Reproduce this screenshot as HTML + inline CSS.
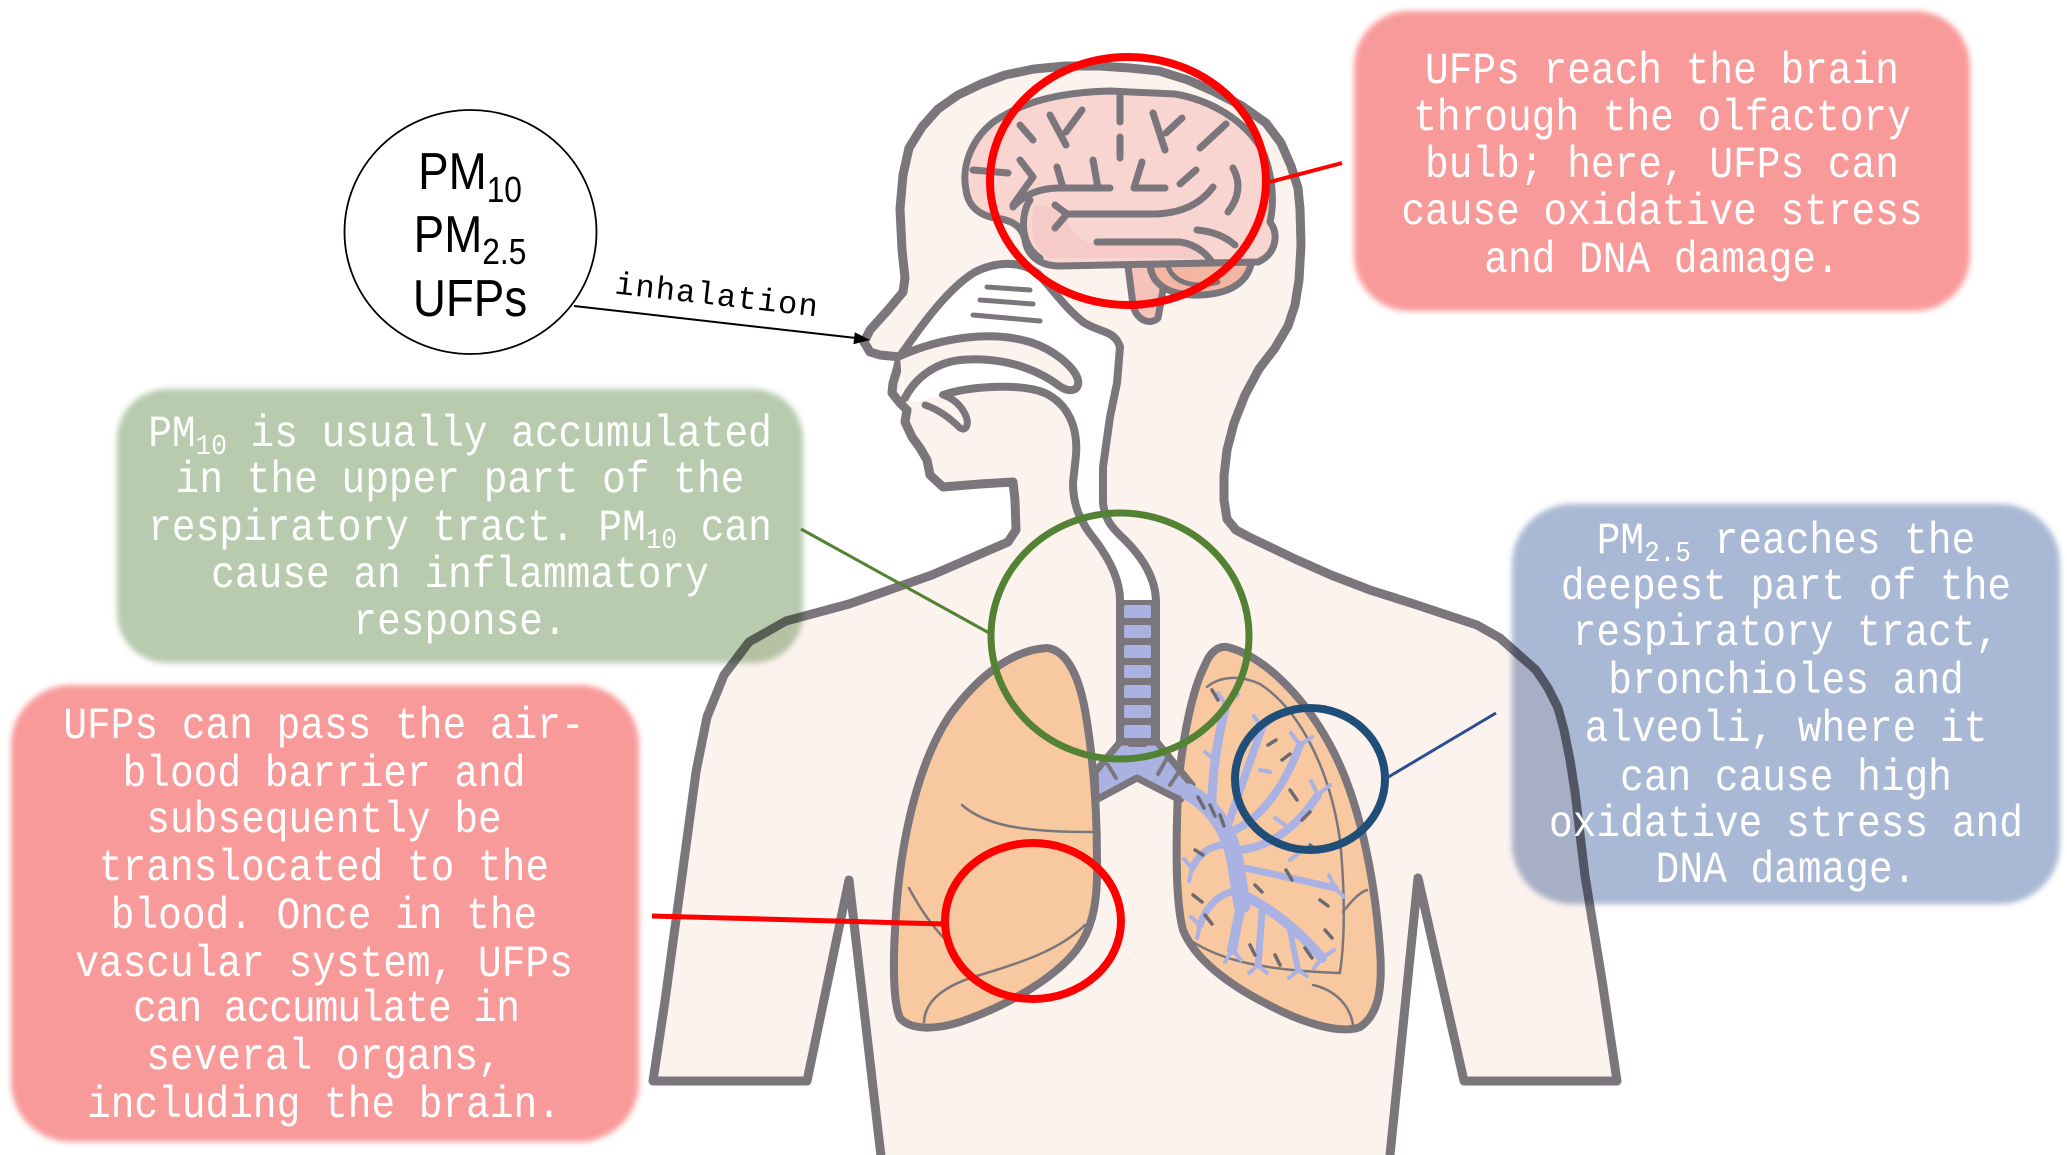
<!DOCTYPE html>
<html><head><meta charset="utf-8"><style>html,body{margin:0;padding:0;background:#fff}svg{display:block}</style></head>
<body>
<svg width="2067" height="1155" viewBox="0 0 2067 1155" xmlns="http://www.w3.org/2000/svg">
<defs>
<filter id="bl" x="-5%" y="-5%" width="110%" height="110%"><feGaussianBlur stdDeviation="3"/></filter>
</defs>
<rect width="2067" height="1155" fill="#fff"/>

<!-- boxes -->
<rect x="1354" y="11" width="616" height="300" rx="55" fill="#f99a9a" filter="url(#bl)"/>
<rect x="117" y="389" width="686" height="274" rx="50" fill="#b8cbae" filter="url(#bl)"/>
<rect x="11" y="685" width="628" height="457" rx="60" fill="#f99a9a" filter="url(#bl)"/>
<rect x="1512" y="504" width="548" height="400" rx="60" fill="#a9b8d4" filter="url(#bl)"/>

<!-- body -->
<g style="mix-blend-mode:multiply" stroke="#7a767b" stroke-linejoin="round" stroke-linecap="round">
<path fill="#fcf3ef" stroke-width="9" d="M864,342 L870,330 L888,310 L903,292 L905,278 L902,250 L900,209 L903,175 L909,148 L922,127 L938,109 L958,95 L981,84 L1005,75 L1034,69 L1065,66 L1099,66 L1130,68 L1159,71 L1188,80 L1213,91 L1242,106 L1266,123 L1281,143 L1291,166 L1298,188 L1300,209 L1301,245 L1299,280 L1295,305 L1288,326 L1275,348 L1259,369 L1245,395 L1234,423 L1227,450 L1224,476 L1224,500 L1227,519 L1236,530 L1249,537 L1295,559 L1331,575 L1370,590 L1414,604 L1477,625 L1500,638 L1519,655 L1536,670 L1548,688 L1558,708 L1564,730 L1570,760 L1575,792 L1585,876 L1602,980 L1617,1081 L1464,1081 L1418,878 L1389,1165 L882,1165 L849,880 L807,1081 L653,1081 L665,1001 L682,876 L696,772 L707,717 L724,675 L749,642 L786,621 L849,604 L932,575 L1008,542 L1016,530 L1015,500 L1013,482 L980,484 L943,487 L930,475 L927,460 L920,448 L912,437 L905,422 L907,410 L900,403 L892,393 L893,383 L897,370 L900,357 L880,355 L870,352 Z"/>
<!-- white cavity -->
<path fill="#fff" stroke="none" d="M900,356 C915,335 945,290 975,272 C995,262 1020,260 1037,273 C1050,285 1062,305 1083,322 C1100,333 1115,330 1120,347 L1117,383 L1110,417 L1103,467 L1103,503 C1105,520 1112,528 1125,540 C1140,555 1155,575 1156,600 L1156,745 L1120,745 L1120,600 C1120,580 1110,560 1095,540 C1080,522 1073,505 1073,483 L1076,455 C1078,430 1070,405 1045,393 C1020,383 970,386 943,395 L915,402 L903,395 Z"/>
<path fill="none" stroke-width="8" d="M900,356 C915,335 945,290 975,272 C995,262 1020,260 1037,273 C1050,285 1062,305 1083,322 C1100,333 1115,330 1120,347 L1117,383 L1110,417 L1103,467 L1103,503 C1105,520 1112,528 1125,540 C1140,555 1155,575 1156,600 L1156,745"/>
<path fill="none" stroke-width="8" d="M943,395 C970,386 1020,383 1045,393 C1070,405 1078,430 1076,455 L1073,483 C1073,505 1080,522 1095,540 C1110,560 1120,580 1120,600 L1120,745"/>
<!-- palate -->
<path fill="#fcf3ef" stroke-width="8" d="M900,356 C940,338 990,330 1030,342 C1055,350 1075,368 1078,380 C1080,392 1068,393 1058,385 C1035,368 1000,356 960,360 C935,363 915,378 905,398"/>
<!-- tongue tip -->
<path fill="#fcf3ef" stroke-width="7" d="M925,405 C940,410 952,420 960,428 C966,432 970,424 965,414 C960,404 952,398 943,395"/>
<!-- turbinates -->
<g stroke-width="5" fill="none"><path d="M987,287 L1030,290"/><path d="M980,300 L1033,304"/><path d="M973,315 L1040,321"/></g>

<!-- brain -->
<path fill="#f5c3bb" stroke-width="7" d="M1127,258 L1133,305 C1136,320 1150,326 1158,318 L1163,290 L1160,258 Z"/>
<path fill="#f4b6a2" stroke-width="7" d="M1150,258 C1148,285 1170,296 1200,295 C1230,294 1250,282 1252,258 Z"/>
<path fill="none" stroke-width="5" d="M1168,266 C1173,283 1195,289 1218,282"/>
<path fill="#f9d5d1" stroke-width="7" d="M966,190 C960,160 978,128 1005,115 C1030,100 1065,92 1110,91 L1175,94 C1210,100 1245,120 1262,150 C1272,172 1275,200 1270,222 C1280,235 1275,255 1258,262 L1060,266 C1038,266 1027,254 1025,240 C1022,226 1012,220 995,218 C978,215 968,205 966,190 Z"/>
<path fill="#f6cac6" stroke="none" d="M1035,205 C1028,225 1032,250 1050,258 L1200,258 L1200,245 L1100,245 C1075,243 1060,220 1070,210 Z"/>
<g fill="none" stroke-width="7">
<path d="M1120,96 L1120,122"/><path d="M1120,137 L1120,158"/>
<path d="M1050,115 L1066,145"/><path d="M1066,132 L1082,110"/>
<path d="M1153,113 L1165,150"/><path d="M1166,133 L1182,118"/>
<path d="M1020,125 L1033,140"/>
<path d="M1200,148 L1226,124"/>
<path d="M1233,168 Q1245,190 1228,212"/>
<path d="M1180,184 L1196,170"/>
<path d="M1142,162 L1134,188 L1165,188"/>
<path d="M1093,160 L1098,188"/>
<path d="M1057,167 L1063,188"/>
<path d="M1013,207 Q1030,188 1060,188 L1110,188"/>
<path d="M1020,160 L1033,177 L1013,205"/>
<path d="M973,170 L1008,173"/>
<path d="M1213,187 Q1195,212 1157,214 L1067,214"/>
<path d="M1055,205 L1067,214 L1055,228"/>
<path d="M1097,242 L1180,242 Q1200,245 1212,262"/>
<path d="M1197,230 Q1220,232 1235,245"/>
<path d="M1030,200 C1020,215 1020,245 1040,258"/>
</g>

<!-- lungs -->
<path fill="#f8c9a0" stroke-width="8" d="M1047,648 C1065,650 1078,672 1085,710 C1092,750 1097,800 1097,860 C1098,900 1093,925 1080,945 C1060,975 1010,1005 960,1022 C935,1030 910,1030 900,1018 C892,1000 893,950 897,900 C903,830 920,760 950,715 C975,680 1010,650 1047,648 Z"/>
<path fill="#f8c9a0" stroke-width="8" d="M1227,647 C1260,655 1300,690 1330,745 C1360,800 1375,880 1380,950 C1383,990 1378,1015 1360,1027 C1340,1035 1300,1022 1265,1003 C1230,985 1195,960 1183,930 C1175,900 1176,840 1178,790 C1182,740 1192,690 1205,665 C1210,652 1218,646 1227,647 Z"/>
<g fill="none" stroke-width="2.5">
<path d="M962,805 C985,825 1020,832 1092,832"/>
<path d="M909,888 C918,905 930,925 948,942"/>
<path d="M924,1022 C925,1000 945,985 980,975 C1020,963 1060,950 1085,925"/>
<path d="M1207,687 C1220,676 1240,675 1260,684 C1300,710 1330,770 1340,840 C1345,890 1345,940 1340,972"/>
<path d="M1190,940 C1220,960 1260,970 1340,973"/>
<path d="M1313,985 C1335,990 1350,1005 1353,1025"/>
<path d="M1343,912 C1352,900 1360,892 1367,890"/>
</g>

<!-- trachea -->
<rect x="1117" y="600" width="42" height="145" fill="#7a767b" stroke="none"/>
<g fill="#a9b2e0" stroke="none">
<rect x="1124" y="605" width="27" height="13" rx="2"/><rect x="1124" y="625" width="27" height="13" rx="2"/><rect x="1124" y="645" width="27" height="13" rx="2"/><rect x="1124" y="665" width="27" height="13" rx="2"/><rect x="1124" y="685" width="27" height="13" rx="2"/><rect x="1124" y="705" width="27" height="13" rx="2"/><rect x="1124" y="725" width="27" height="13" rx="2"/>
</g>
<path fill="#a9b2e0" stroke-width="7" d="M1120,742 L1095,772 L1096,800 L1137,778 L1180,800 L1192,785 L1157,742 Z"/>
<g fill="none" stroke-width="4"><path d="M1108,765 L1116,778"/><path d="M1166,760 L1158,774"/><path d="M1180,770 L1170,785"/><path d="M1130,745 L1145,745"/></g>

<!-- bronchial tree -->
<g stroke="#a9b2e2" fill="none" stroke-linecap="round">
<path d="M1188,792 Q1225,812 1235,860 L1242,905" stroke-width="17"/>
<path d="M1242,900 L1232,950" stroke-width="10"/>
<path d="M1243,895 Q1285,915 1322,958" stroke-width="10"/>
<path d="M1212,805 Q1212,760 1226,705" stroke-width="9"/>
<path d="M1228,825 Q1245,775 1262,728" stroke-width="8"/>
<path d="M1235,830 Q1275,810 1300,745" stroke-width="8"/>
<path d="M1240,850 Q1285,845 1318,795" stroke-width="8"/>
<path d="M1245,868 Q1300,880 1335,888" stroke-width="7"/>
<path d="M1232,845 Q1205,842 1192,868" stroke-width="7"/>
<path d="M1238,890 Q1210,895 1200,925" stroke-width="7"/>
<path d="M1262,912 L1258,965" stroke-width="7"/>
<path d="M1290,930 L1298,970" stroke-width="6"/>
<path d="M1226,705 L1218,693 M1226,705 L1238,694 M1262,728 L1254,716 M1262,728 L1274,719 M1300,745 L1291,733 M1300,745 L1312,737 M1318,795 L1311,781 M1318,795 L1330,785 M1335,888 L1329,875 M1335,888 L1344,897 M1322,958 L1314,968 M1322,958 L1334,950 M1192,868 L1184,859 M1192,868 L1189,881 M1200,925 L1191,917 M1200,925 L1197,938 M1258,965 L1249,973 M1258,965 L1267,973 M1298,970 L1289,978 M1298,970 L1307,976 M1232,950 L1225,962 M1232,950 L1241,960 M1275,818 L1285,825 M1260,770 L1270,772 M1290,860 L1300,852 M1215,760 L1205,752" stroke-width="4"/>
</g>
<g fill="none" stroke="#6e6a70" stroke-width="3.5">
<path d="M1198,797 L1204,808"/><path d="M1210,805 L1215,816"/><path d="M1220,815 L1224,826"/>
<path d="M1212,690 L1218,700"/><path d="M1268,745 L1276,740"/><path d="M1282,760 L1290,754"/><path d="M1290,790 L1297,800"/>
<path d="M1302,820 L1310,812"/><path d="M1310,845 L1318,852"/><path d="M1286,870 L1292,880"/><path d="M1195,850 L1203,855"/>
<path d="M1193,895 L1202,902"/><path d="M1205,915 L1212,924"/><path d="M1250,945 L1255,955"/><path d="M1275,955 L1280,965"/>
<path d="M1305,948 L1312,958"/><path d="M1325,930 L1332,938"/><path d="M1320,900 L1328,906"/><path d="M1255,885 L1262,892"/>
</g>
</g>

<!-- circles and connectors -->
<g fill="none">
<ellipse cx="1128" cy="181" rx="138" ry="124" stroke="#ff0000" stroke-width="8"/>
<line x1="1270" y1="182" x2="1342" y2="163" stroke="#ff0000" stroke-width="4"/>
<ellipse cx="1120" cy="636" rx="129" ry="123" stroke="#548235" stroke-width="7"/>
<line x1="801" y1="529" x2="991" y2="634" stroke="#548235" stroke-width="3"/>
<ellipse cx="1033" cy="921" rx="88" ry="78" stroke="#ff0000" stroke-width="8"/>
<line x1="652" y1="916" x2="945" y2="924" stroke="#ff0000" stroke-width="5"/>
<ellipse cx="1310" cy="779" rx="75" ry="71" stroke="#1f4e79" stroke-width="8"/>
<line x1="1385" y1="779" x2="1496" y2="713" stroke="#2e4e90" stroke-width="3"/>
</g>

<!-- PM circle -->
<ellipse cx="470.5" cy="232" rx="126" ry="122" fill="#fff" stroke="#000" stroke-width="1.8"/>
<g font-family="'Liberation Sans', Arial, sans-serif" fill="#000" text-anchor="middle">
<text transform="translate(470,189) scale(0.88,1)" font-size="52">PM<tspan font-size="36" dy="13">10</tspan></text>
<text transform="translate(470,252) scale(0.88,1)" font-size="52">PM<tspan font-size="36" dy="12">2.5</tspan></text>
<text transform="translate(470,316) scale(0.88,1)" font-size="52">UFPs</text>
</g>
<line x1="574" y1="306" x2="856" y2="338" stroke="#000" stroke-width="2"/>
<polygon points="870,340 854.8,332.2 853.4,344.2" fill="#000"/>
<text transform="translate(716,305) rotate(6.5)" text-anchor="middle" font-family="'Liberation Mono', monospace" font-size="32" letter-spacing="1.3" fill="#000">inhalation</text>

<!-- box texts -->
<g font-family="'Liberation Mono', 'DejaVu Sans Mono', monospace" font-size="39.5" fill="#fff" text-anchor="middle">
<text transform="translate(1662,83) scale(1,1.12)">UFPs reach the brain</text>
<text transform="translate(1662,130) scale(1,1.12)">through the olfactory</text>
<text transform="translate(1662,177) scale(1,1.12)">bulb; here, UFPs can</text>
<text transform="translate(1662,224) scale(1,1.12)">cause oxidative stress</text>
<text transform="translate(1662,272) scale(1,1.12)">and DNA damage.</text>

<text transform="translate(460,446) scale(1,1.12)">PM<tspan font-size="26" dy="7">10</tspan><tspan dy="-7"> is usually accumulated</tspan></text>
<text transform="translate(460,492) scale(1,1.12)">in the upper part of the</text>
<text transform="translate(460,540) scale(1,1.12)">respiratory tract. PM<tspan font-size="26" dy="7">10</tspan><tspan dy="-7"> can</tspan></text>
<text transform="translate(460,587) scale(1,1.12)">cause an inflammatory</text>
<text transform="translate(460,634) scale(1,1.12)">response.</text>

<text transform="translate(324,738) scale(1,1.12)">UFPs can pass the air-</text>
<text transform="translate(324,786) scale(1,1.12)">blood barrier and</text>
<text transform="translate(324,832) scale(1,1.12)">subsequently be</text>
<text transform="translate(324,880) scale(1,1.12)">translocated to the</text>
<text transform="translate(324,928) scale(1,1.12)">blood. Once in the</text>
<text transform="translate(324,976) scale(1,1.12)">vascular system, UFPs</text>
<text transform="translate(326,1021) scale(1,1.12)" letter-spacing="-1">can accumulate in</text>
<text transform="translate(324,1069) scale(1,1.12)">several organs,</text>
<text transform="translate(324,1117) scale(1,1.12)">including the brain.</text>

<text transform="translate(1786,553) scale(1,1.12)">PM<tspan font-size="26" dy="7">2.5</tspan><tspan dy="-7"> reaches the</tspan></text>
<text transform="translate(1786,599) scale(1,1.12)">deepest part of the</text>
<text transform="translate(1786,645) scale(1,1.12)">respiratory tract,</text>
<text transform="translate(1786,693) scale(1,1.12)">bronchioles and</text>
<text transform="translate(1786,741) scale(1,1.12)">alveoli, where it</text>
<text transform="translate(1786,790) scale(1,1.12)">can cause high</text>
<text transform="translate(1786,836) scale(1,1.12)">oxidative stress and</text>
<text transform="translate(1786,882) scale(1,1.12)">DNA damage.</text>
</g>
</svg>
</body></html>
